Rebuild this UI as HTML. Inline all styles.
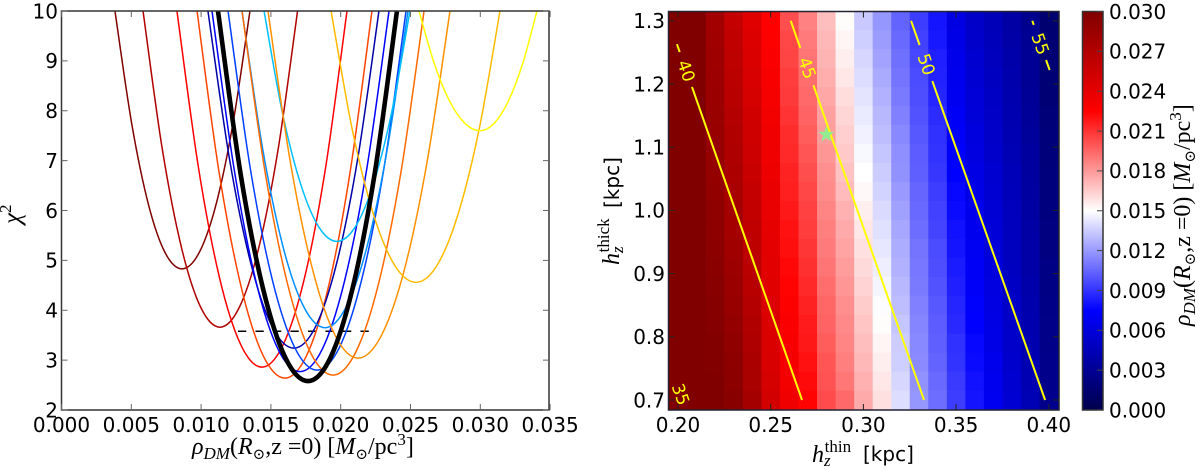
<!DOCTYPE html>
<html>
<head>
<meta charset="utf-8">
<title>Dark matter density chi-square and scale height map</title>
<style>
html,body{margin:0;padding:0;background:#fff;}
svg{display:block;}
text{fill:#000;}
.tick{font-family:"DejaVu Sans","Liberation Sans",sans-serif;font-size:20px;}
.math{font-family:"Liberation Serif","DejaVu Serif",serif;font-size:24px;}
.sans{font-family:"DejaVu Sans","Liberation Sans",sans-serif;font-size:20px;}
.i{font-style:italic;}
</style>
</head>
<body>
<svg id="figure" xmlns="http://www.w3.org/2000/svg" width="1200" height="470" viewBox="0 0 1200 470">
<defs>
<clipPath id="clip-left"><rect x="61.5" y="11" width="487.5" height="399"/></clipPath>
<clipPath id="clip-right"><rect x="668.5" y="11.5" width="390.5" height="398.5"/></clipPath>
<linearGradient id="seismic" x1="0" y1="1" x2="0" y2="0">
<stop offset="0" stop-color="#00004d"/>
<stop offset="0.25" stop-color="#0000ff"/>
<stop offset="0.5" stop-color="#ffffff"/>
<stop offset="0.75" stop-color="#ff0000"/>
<stop offset="1" stop-color="#800000"/>
</linearGradient>
</defs>

<g id="left-plot">
<g id="curves" clip-path="url(#clip-left)"></g>
<rect x="61.5" y="11" width="487.5" height="399" fill="none" stroke="#333" stroke-width="1.5"/>
<g id="left-ticks"></g>
<text class="math" x="192" y="454"><tspan class="i">ρ</tspan><tspan class="i" font-size="17" dy="5">DM</tspan><tspan dy="-5">(</tspan><tspan class="i">R</tspan><tspan font-size="15" dy="5">⊙</tspan><tspan dy="-5">,z =0) [</tspan><tspan class="i">M</tspan><tspan font-size="15" dy="5">⊙</tspan><tspan dy="-5">/pc</tspan><tspan font-size="17" dy="-9">3</tspan><tspan dy="9">]</tspan></text>
<text class="math" transform="translate(20,224) rotate(-90)"><tspan class="i" font-size="25">χ</tspan><tspan font-size="17" dy="-9">2</tspan></text>
</g>

<g id="right-plot">
<g id="heatmap"></g>
<g id="contours" clip-path="url(#clip-right)"></g>
<polygon id="star" fill="#90ee90"/>
<rect x="668.5" y="11.5" width="390.5" height="398.5" fill="none" stroke="#223" stroke-width="1.5"/>
<g id="right-ticks"></g>
<g>
<text class="math" x="812" y="462" style="font-size:24px"><tspan class="i">h</tspan><tspan font-size="17" dy="4" class="i">z</tspan><tspan font-size="17" dy="-14" dx="-6">thin</tspan></text>
<text class="sans" x="863" y="461">[kpc]</text>
</g>
<g>
<text class="math" transform="translate(619,265) rotate(-90)" style="font-size:24px"><tspan class="i">h</tspan><tspan font-size="17" dy="4" class="i">z</tspan><tspan font-size="17" dy="-14" dx="-6">thick</tspan></text>
<text class="sans" transform="translate(619,208) rotate(-90)">[kpc]</text>
</g>
</g>

<g id="colorbar">
<rect x="1082.5" y="11.5" width="20.5" height="398.5" fill="url(#seismic)" stroke="#333" stroke-width="1.5"/>
<g id="colorbar-ticks"></g>
<text class="math" transform="translate(1190,326) rotate(-90)"><tspan class="i">ρ</tspan><tspan class="i" font-size="17" dy="5">DM</tspan><tspan dy="-5">(</tspan><tspan class="i">R</tspan><tspan font-size="15" dy="5">⊙</tspan><tspan dy="-5">,z =0) [</tspan><tspan class="i">M</tspan><tspan font-size="15" dy="5">⊙</tspan><tspan dy="-5">/pc</tspan><tspan font-size="17" dy="-9">3</tspan><tspan dy="9">]</tspan></text>
</g>
</svg>

<script>
// ---------- left chart data (density in units of 0.001 Msun/pc^3, chi-square) ----------
const rhoTicks = [0, 5, 10, 15, 20, 25, 30, 35];
const rhoTickLabels = ["0.000", "0.005", "0.010", "0.015", "0.020", "0.025", "0.030", "0.035"];
const chiTicks = [2, 3, 4, 5, 6, 7, 8, 9, 10];
const chiTickLabels = ["2", "3", "4", "5", "6", "7", "8", "9", "10"];

const curveColors = ["#800000", "#b00000", "#ff0000", "#ff4500", "#0000a8", "#0000ff", "#0040ff", "#0090ff", "#00bfff", "#ff6a00", "#ff9000", "#ffbb00", "#ffff00", "#000000"];
const curveNames = ["maroon", "dark-red", "red", "orange-red", "dark-blue", "blue", "medium-blue", "light-blue", "cyan", "deep-orange", "orange", "amber", "yellow", "best-fit-black"];

const rhoMaroon = [3.83, 5.03, 6.23, 7.43, 8.63, 9.85, 11.07, 12.28, 13.50];
const chiMaroon = [10, 7.74, 6.12, 5.15, 4.83, 5.15, 6.12, 7.74, 10];
const rhoDarkRed = [5.84, 7.22, 8.60, 9.97, 11.35, 12.74, 14.13, 15.52, 16.91];
const chiDarkRed = [10, 7.23, 5.25, 4.06, 3.66, 4.06, 5.25, 7.23, 10];
const rhoRed = [8.27, 9.80, 11.32, 12.84, 14.36, 15.88, 17.41, 18.93, 20.45];
const chiRed = [10, 6.88, 4.65, 3.31, 2.86, 3.31, 4.65, 6.88, 10];
const rhoOrangeRed = [9.71, 11.28, 12.86, 14.43, 16.01, 17.57, 19.13, 20.68, 22.24];
const chiOrangeRed = [10, 6.78, 4.48, 3.10, 2.64, 3.10, 4.48, 6.78, 10];
const rhoDarkBlue = [10.49, 12.03, 13.57, 15.11, 16.65, 18.18, 19.70, 21.22, 22.74];
const chiDarkBlue = [10, 7.04, 4.93, 3.66, 3.24, 3.66, 4.93, 7.04, 10];
const rhoBlue = [10.78, 12.36, 13.93, 15.51, 17.08, 18.68, 20.27, 21.87, 23.46];
const chiBlue = [10, 6.84, 4.58, 3.22, 2.77, 3.22, 4.58, 6.84, 10];
const rhoMediumBlue = [11.93, 13.52, 15.11, 16.71, 18.30, 19.90, 21.49, 23.10, 24.68];
const chiMediumBlue = [10, 6.85, 4.60, 3.25, 2.80, 3.25, 4.60, 6.85, 10];
const rhoLightBlue = [12.93, 14.42, 15.90, 17.39, 18.88, 20.36, 21.85, 23.33, 24.82];
const chiLightBlue = [10, 7.22, 5.24, 4.05, 3.65, 4.05, 5.24, 7.22, 10];
const rhoCyan = [14.51, 15.81, 17.12, 18.43, 19.73, 21.04, 22.35, 23.66, 24.96];
const chiCyan = [10, 7.98, 6.54, 5.67, 5.38, 5.67, 6.54, 7.98, 10];
const rhoDeepOrange = [12.93, 14.56, 16.19, 17.82, 19.45, 21.08, 22.71, 24.34, 25.97];
const chiDeepOrange = [10, 6.81, 4.53, 3.16, 2.70, 3.16, 4.53, 6.81, 10];
const rhoOrange = [14.79, 16.40, 18.02, 19.63, 21.24, 22.89, 24.53, 26.18, 27.83];
const chiOrange = [10, 6.96, 4.78, 3.48, 3.04, 3.48, 4.78, 6.96, 10];
const rhoAmber = [19.31, 20.83, 22.35, 23.87, 25.39, 26.90, 28.40, 29.91, 31.41];
const chiAmber = [10, 7.62, 5.92, 4.90, 4.56, 4.90, 5.92, 7.62, 10];
const rhoYellow = [25.61, 26.70, 27.79, 28.89, 29.98, 31.00, 32.02, 33.04, 34.06];
const chiYellow = [10, 8.95, 8.2, 7.75, 7.6, 7.75, 8.2, 8.95, 10];
const rhoBlack = [11.21, 12.82, 14.43, 16.05, 17.66, 19.25, 20.85, 22.44, 24.03];
const chiBlack = [10, 6.75, 4.44, 3.04, 2.58, 3.04, 4.44, 6.75, 10];

const curveRho = [rhoMaroon, rhoDarkRed, rhoRed, rhoOrangeRed, rhoDarkBlue, rhoBlue, rhoMediumBlue, rhoLightBlue, rhoCyan, rhoDeepOrange, rhoOrange, rhoAmber, rhoYellow, rhoBlack];
const curveChi = [chiMaroon, chiDarkRed, chiRed, chiOrangeRed, chiDarkBlue, chiBlue, chiMediumBlue, chiLightBlue, chiCyan, chiDeepOrange, chiOrange, chiAmber, chiYellow, chiBlack];

const thresholdRho = [12.64, 22.1];
const thresholdChi = [3.58, 3.58];

// ---------- right chart data ----------
const thinTicks = [0.20, 0.25, 0.30, 0.35, 0.40];
const thinTickLabels = ["0.20", "0.25", "0.30", "0.35", "0.40"];
const thickTicks = [0.7, 0.8, 0.9, 1.0, 1.1, 1.2, 1.3];
const thickTickLabels = ["0.7", "0.8", "0.9", "1.0", "1.1", "1.2", "1.3"];
const colorbarTicks = [0, 3, 6, 9, 12, 15, 18, 21, 24, 27, 30];
const colorbarTickLabels = ["0.000", "0.003", "0.006", "0.009", "0.012", "0.015", "0.018", "0.021", "0.024", "0.027", "0.030"];

const thinCenters = [0.20, 0.21, 0.22, 0.23, 0.24, 0.25, 0.26, 0.27, 0.28, 0.29, 0.30, 0.31, 0.32, 0.33, 0.34, 0.35, 0.36, 0.37, 0.38, 0.39, 0.40];
const thickCenters = [1.30, 1.27, 1.24, 1.21, 1.18, 1.15, 1.12, 1.09, 1.06, 1.03, 1.00, 0.97, 0.94, 0.91, 0.88, 0.85, 0.82, 0.79, 0.76, 0.73, 0.70];
// density (0.001 Msun/pc^3), one row per thickCenters entry, one column per thinCenters entry
const densityGrid = [
[32,30.0,28.0,26.0,24.3,22.5,20.2,18.7,16.9,15.1,13.4,11.9,10.4,9.3,8.1,6.3,5.2,4.5,3.7,2.8,1.5],
[32,30.1,28.1,26.2,24.5,22.6,20.4,18.9,17.1,15.3,13.6,12.1,10.6,9.4,8.2,6.5,5.3,4.6,3.8,2.9,1.6],
[32,30.2,28.2,26.4,24.7,22.8,20.5,19.1,17.2,15.5,13.8,12.3,10.8,9.6,8.4,6.6,5.5,4.7,3.9,3.0,1.6],
[32,30.3,28.3,26.5,24.8,22.9,20.7,19.3,17.4,15.7,14.0,12.5,10.9,9.7,8.5,6.8,5.6,4.9,4.0,3.0,1.7],
[32,30.4,28.4,26.7,25.0,23.0,20.8,19.4,17.6,16.0,14.2,12.7,11.1,9.8,8.6,6.9,5.8,5.0,4.1,3.1,1.7],
[32,30.5,28.5,26.9,25.2,23.2,21.0,19.6,17.8,16.2,14.4,12.9,11.3,9.9,8.8,7.1,5.9,5.1,4.2,3.2,1.8],
[32,30.6,28.6,27.1,25.4,23.3,21.2,19.8,17.9,16.4,14.6,13.1,11.5,10.1,8.9,7.2,6.1,5.2,4.3,3.3,1.9],
[32,30.7,28.7,27.2,25.5,23.4,21.3,20.0,18.1,16.6,14.8,13.3,11.7,10.2,9.0,7.4,6.2,5.3,4.4,3.4,1.9],
[32,30.8,28.8,27.4,25.7,23.5,21.5,20.2,18.3,16.8,15.0,13.5,11.8,10.3,9.1,7.5,6.4,5.5,4.5,3.4,2.0],
[32,30.9,28.9,27.6,25.9,23.7,21.6,20.4,18.4,17.0,15.2,13.7,12.0,10.5,9.3,7.7,6.5,5.6,4.6,3.5,2.0],
[32,31.0,29.1,27.8,26.1,23.8,21.8,20.6,18.6,17.3,15.5,13.9,12.2,10.6,9.4,7.8,6.7,5.7,4.7,3.6,2.1],
[32,31.1,29.2,27.9,26.2,23.9,22.0,20.7,18.8,17.5,15.7,14.1,12.4,10.7,9.5,8.0,6.8,5.8,4.7,3.7,2.2],
[32,31.2,29.3,28.1,26.4,24.1,22.1,20.9,18.9,17.7,15.9,14.3,12.6,10.9,9.7,8.1,7.0,5.9,4.8,3.8,2.2],
[32,31.3,29.4,28.3,26.6,24.2,22.3,21.1,19.1,17.9,16.1,14.5,12.7,11.0,9.8,8.3,7.1,6.1,4.9,3.8,2.3],
[32,31.4,29.5,28.4,26.7,24.3,22.4,21.3,19.3,18.1,16.3,14.7,12.9,11.1,9.9,8.4,7.2,6.2,5.0,3.9,2.3],
[32,31.5,29.6,28.6,26.9,24.5,22.6,21.5,19.5,18.3,16.5,14.9,13.1,11.3,10.1,8.6,7.4,6.3,5.1,4.0,2.4],
[32,31.6,29.7,28.8,27.1,24.6,22.8,21.7,19.6,18.5,16.7,15.1,13.3,11.4,10.2,8.7,7.5,6.4,5.2,4.1,2.5],
[32,31.7,29.8,29.0,27.3,24.7,22.9,21.8,19.8,18.6,16.9,15.3,13.5,11.5,10.3,8.9,7.7,6.5,5.3,4.2,2.5],
[32,31.8,29.9,29.2,27.5,24.8,23.1,22.0,20.0,18.8,17.1,15.5,13.6,11.6,10.4,9.0,7.8,6.7,5.4,4.3,2.6],
[32,31.9,30.0,29.3,27.6,25.0,23.2,22.2,20.1,19.0,17.3,15.7,13.8,11.8,10.6,9.2,8.0,6.8,5.5,4.3,2.6],
[32,32.0,30.1,29.5,27.8,25.1,23.4,22.4,20.3,19.4,17.5,15.9,14.0,11.9,10.7,9.3,8.1,6.9,5.6,4.4,2.7]
];

const contourLevels = ["40", "45", "50", "55"];
const contourThinAtLow = [0.2669, 0.3327, 0.3980, 0.4630];
const contourThinAtHigh = [0.1950, 0.2608, 0.3257, 0.3911];
const contourThickStart = [1.263, 1.30, 1.30, 1.30];
const contourThickEnd = [0.70, 0.70, 0.70, 1.222];
const contourGapTop = [1.2506, 1.257, 1.2617, 1.2934];
const contourGapBottom = [1.1953, 1.198, 1.2047, 1.238];
const contourThickLow = 0.70;
const contourThickHigh = 1.30;
const orphanLabelText = "35";
const orphanLabelThin = 0.2015;
const orphanLabelThick = 0.709;
const bestFitThin = 0.28;
const bestFitThick = 1.12;

// ---------- axis functions ----------
const xLeft = function (v) { return 61.5 + v * 13.96; };
const yLeft = function (v) { return 410 - (v - 2) * 49.875; };
const xRight = function (v) { return 678 + (v - 0.20) * 1854; };
const yRight = function (v) { return 400 - (v - 0.70) * 632; };
const yBar = function (v) { return 410 - v * 13.283; };

const NS = "http://www.w3.org/2000/svg";
function make(tag, parent, attrs) {
  const el = document.createElementNS(NS, tag);
  for (const k in attrs) el.setAttribute(k, attrs[k]);
  parent.appendChild(el);
  return el;
}

// seismic colormap, value in 0.001 units over 0..30
function seismic(v) {
  const n = Math.max(0, Math.min(1, v / 30));
  let r, g, b;
  if (n < 0.25) { r = 0; g = 0; b = 77 + (255 - 77) * n / 0.25; }
  else if (n < 0.5) { const c = 255 * (n - 0.25) / 0.25; r = c; g = c; b = 255; }
  else if (n < 0.75) { const c = 255 * (0.75 - n) / 0.25; r = 255; g = c; b = c; }
  else { r = 255 - 127 * (n - 0.75) / 0.25; g = 0; b = 0; }
  return "rgb(" + Math.round(r) + "," + Math.round(g) + "," + Math.round(b) + ")";
}

// smooth path through data points
function smoothPath(px, py) {
  let d = "M" + px[0].toFixed(2) + " " + py[0].toFixed(2);
  for (let i = 0; i < px.length - 1; i++) {
    const i0 = Math.max(0, i - 1), i3 = Math.min(px.length - 1, i + 2);
    const c1x = px[i] + (px[i + 1] - px[i0]) / 6, c1y = py[i] + (py[i + 1] - py[i0]) / 6;
    const c2x = px[i + 1] - (px[i3] - px[i]) / 6, c2y = py[i + 1] - (py[i3] - py[i]) / 6;
    d += "C" + c1x.toFixed(2) + " " + c1y.toFixed(2) + " " + c2x.toFixed(2) + " " + c2y.toFixed(2) + " " + px[i + 1].toFixed(2) + " " + py[i + 1].toFixed(2);
  }
  return d;
}

// ---------- left chart ----------
const curveGroup = document.getElementById("curves");
const thresholdLine = make("line", curveGroup, {
  x1: xLeft(thresholdRho[0]), y1: yLeft(thresholdChi[0]),
  x2: xLeft(thresholdRho[1]), y2: yLeft(thresholdChi[1]),
  stroke: "#000", "stroke-width": 1.5, "stroke-dasharray": "8.3 9.2"
});



curveRho.forEach(function (rhos, c) {
  const path = make("path", curveGroup, {
    d: smoothPath(rhos.map(xLeft), curveChi[c].map(yLeft)),
    fill: "none",
    stroke: curveColors[c],
    "stroke-width": c === curveRho.length - 1 ? 4.6 : 1.5
  });
  
  
});

const leftTicks = document.getElementById("left-ticks");
rhoTicks.forEach(function (v, i) {
  const x = xLeft(v);
  const t1 = make("line", leftTicks, { x1: x, x2: x, y1: 410, y2: 404, stroke: "#666", "stroke-width": 1 });
  
  
  const t2 = make("line", leftTicks, { x1: x, x2: x, y1: 11, y2: 17, stroke: "#666", "stroke-width": 1 });
  
  
  const label = make("text", leftTicks, { class: "tick", x: x, y: 432, "text-anchor": "middle" });
  label.textContent = rhoTickLabels[i];
  
  
});
chiTicks.forEach(function (v, i) {
  const y = yLeft(v);
  const t1 = make("line", leftTicks, { x1: 61.5, x2: 67.5, y1: y, y2: y, stroke: "#666", "stroke-width": 1 });
  
  
  const t2 = make("line", leftTicks, { x1: 549, x2: 543, y1: y, y2: y, stroke: "#666", "stroke-width": 1 });
  
  
  const label = make("text", leftTicks, { class: "tick", x: 58, y: y + 7.3, "text-anchor": "end" });
  label.textContent = chiTickLabels[i];
  
  
});

// ---------- heatmap ----------
const heatGroup = document.getElementById("heatmap");
densityGrid.forEach(function (row, r) {
  row.forEach(function (v, c) {
    const x0 = xRight(thinCenters[c] - 0.005), x1 = xRight(thinCenters[c] + 0.005);
    const y0 = yRight(thickCenters[r] + 0.015), y1 = yRight(thickCenters[r] - 0.015);
    const cell = make("rect", heatGroup, {
      x: x0, y: y0, width: x1 - x0 + 0.4, height: y1 - y0 + 0.4,
      fill: seismic(v)
    });
    
    
  });
});

// ---------- contours ----------
const contourGroup = document.getElementById("contours");
function contourThin(c, thick) {
  return contourThinAtLow[c] + (contourThinAtHigh[c] - contourThinAtLow[c]) * (thick - contourThickLow) / (contourThickHigh - contourThickLow);
}
contourLevels.forEach(function (level, c) {
  const top = make("line", contourGroup, {
    x1: xRight(contourThin(c, contourThickStart[c])), y1: yRight(contourThickStart[c]),
    x2: xRight(contourThin(c, contourGapTop[c])), y2: yRight(contourGapTop[c]),
    stroke: "#ffff00", "stroke-width": 2
  });
  
  
  const low = make("line", contourGroup, {
    x1: xRight(contourThin(c, contourGapBottom[c])), y1: yRight(contourGapBottom[c]),
    x2: xRight(contourThin(c, contourThickEnd[c])), y2: yRight(contourThickEnd[c]),
    stroke: "#ffff00", "stroke-width": 2
  });
  
  
  const mid = (contourGapTop[c] + contourGapBottom[c]) / 2;
  const lx = xRight(contourThin(c, mid)), ly = yRight(mid);
  const label = make("text", contourGroup, {
    x: lx + 1.5, y: ly + 6, "text-anchor": "middle",
    class: "tick", style: "font-size:17px;fill:#ffff00",
    transform: "rotate(70.6 " + lx + " " + ly + ")"
  });
  label.textContent = level;
  
  
});
const orphanX = xRight(orphanLabelThin), orphanY = yRight(orphanLabelThick);
const orphanLabel = make("text", contourGroup, {
  x: orphanX, y: orphanY + 6, "text-anchor": "middle",
  class: "tick", style: "font-size:17px;fill:#ffff00",
  transform: "rotate(70.6 " + orphanX + " " + orphanY + ")"
});
orphanLabel.textContent = orphanLabelText;



// ---------- star ----------
const starPoints = [];
for (let i = 0; i < 10; i++) {
  const rad = i % 2 === 0 ? 8.5 : 3.4;
  const ang = -Math.PI / 2 + i * Math.PI / 5;
  starPoints.push((xRight(bestFitThin) + rad * Math.cos(ang)).toFixed(2) + "," + (yRight(bestFitThick) + rad * Math.sin(ang)).toFixed(2));
}
document.getElementById("star").setAttribute("points", starPoints.join(" "));

// ---------- right ticks ----------
const rightTicks = document.getElementById("right-ticks");
thinTicks.forEach(function (v, i) {
  const x = xRight(v);
  const t1 = make("line", rightTicks, { x1: x, x2: x, y1: 410, y2: 404, stroke: "#222", "stroke-width": 1 });
  
  
  const t2 = make("line", rightTicks, { x1: x, x2: x, y1: 11.5, y2: 17.5, stroke: "#222", "stroke-width": 1 });
  
  
  const label = make("text", rightTicks, { class: "tick", x: x, y: 432, "text-anchor": "middle" });
  label.textContent = thinTickLabels[i];
  
  
});
thickTicks.forEach(function (v, i) {
  const y = yRight(v);
  const t1 = make("line", rightTicks, { x1: 668.5, x2: 674.5, y1: y, y2: y, stroke: "#222", "stroke-width": 1 });
  
  
  const t2 = make("line", rightTicks, { x1: 1059, x2: 1053, y1: y, y2: y, stroke: "#222", "stroke-width": 1 });
  
  
  const label = make("text", rightTicks, { class: "tick", x: 665, y: y + 7.3, "text-anchor": "end" });
  label.textContent = thickTickLabels[i];
  
  
});

// ---------- colorbar ticks ----------
const barTicks = document.getElementById("colorbar-ticks");
colorbarTicks.forEach(function (v, i) {
  const y = yBar(v);
  const t = make("line", barTicks, { x1: 1103, x2: 1097, y1: y, y2: y, stroke: "#444", "stroke-width": 1 });
  
  
  const label = make("text", barTicks, { class: "tick", x: 1109, y: y + 7.3 });
  label.textContent = colorbarTickLabels[i];
  
  
});
</script>
</body>
</html>
